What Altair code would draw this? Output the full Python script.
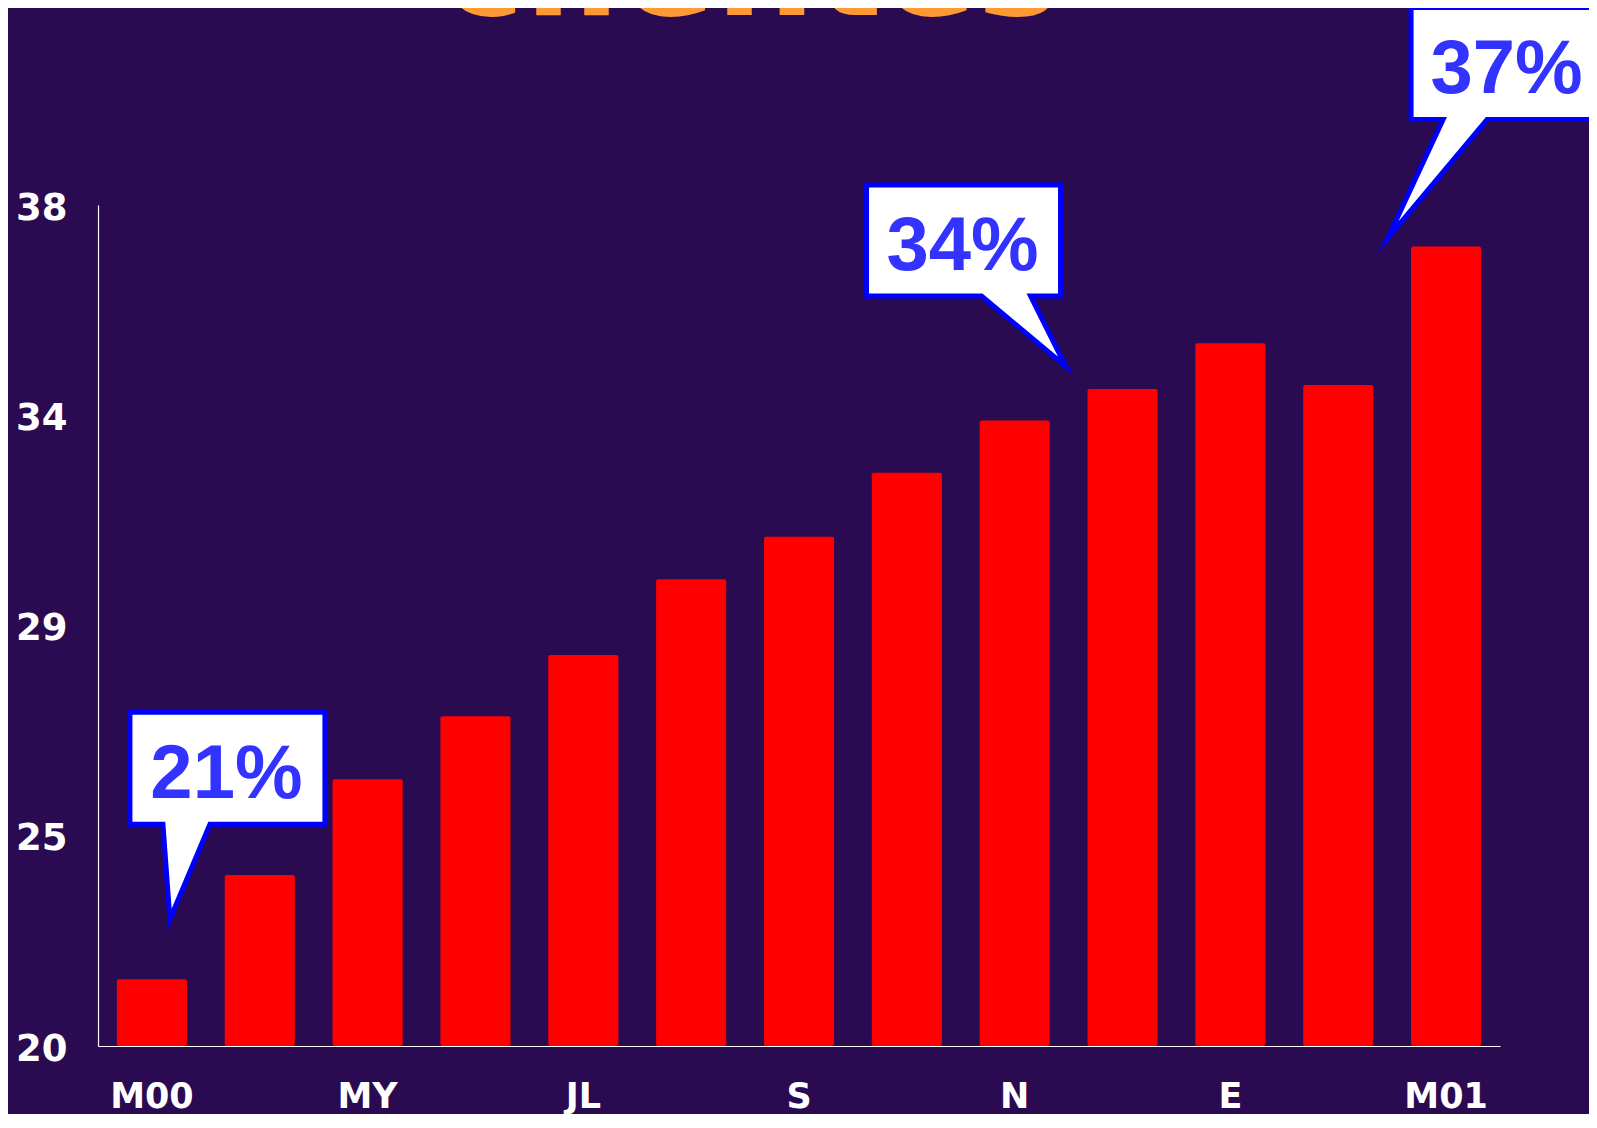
import altair as alt
import pandas as pd

# ---- data ----
months = ["M00", "A", "MY", "JN", "JL", "AG", "S", "O", "N", "D", "E", "F", "M01"]
values = [21.43, 23.66, 25.71, 27.06, 28.37, 29.99, 30.90, 32.27, 33.39, 34.06, 35.04, 34.15, 37.11]
x_tick_labels = ["M00", "MY", "JL", "S", "N", "E", "M01"]
y_ticks = [20, 24.5, 29, 33.5, 38]
y_domain = [20, 38]
callout_labels = ["21%", "34%", "37%"]
callout_months = ["M00", "D", "M01"]
title_text = "clientes"

# ---- styles ----
BG = "#2A0A50"
BAR = "#FF0000"
TITLE_COLOR = "#FF9933"
CALLOUT_TEXT = "#3333FF"
CALLOUT_BORDER = "#0000FF"

# callout outline shapes (box + pointer), relative to the tip of the bar they point at, in px
callout_shapes = [
    "M-22,-267 L173,-267 L173,-155 L58,-155 L18,-60 L11,-155 L-22,-155 Z",
    "M-256,-204 L-62,-204 L-62,-93 L-92,-93 L-57,-23 L-141,-93 L-256,-93 Z",
    "M-35,-239 L159,-239 L159,-127 L41,-127 L-58,-9 L-3,-127 L-35,-127 Z",
]
callout_text_offsets = [(74.5, -181), (-160, -119), (60.5, -154)]

bars_df = pd.DataFrame({"mes": months, "valor": values})

x_scale = alt.Scale(domain=months, paddingInner=0.35, paddingOuter=0.175)
y_scale = alt.Scale(domain=y_domain, nice=False, zero=False)

x_axis = alt.Axis(
    values=x_tick_labels, title=None, labelAngle=0, labelColor="white",
    labelFont="DejaVu Sans", labelFontWeight="bold", labelFontSize=35,
    labelPadding=33, ticks=False, tickSize=0, domainColor="white",
    domainWidth=1.2, grid=False, zindex=1,
)
y_axis = alt.Axis(
    values=y_ticks, title=None, labelExpr="'' + round(datum.value)",
    labelColor="white", labelFont="DejaVu Sans", labelFontWeight="bold",
    labelFontSize=37, labelPadding=31, labelOffset=3, ticks=False, tickSize=0,
    domainColor="white", domainWidth=1.2, grid=False, zindex=1,
)

bars = alt.Chart(bars_df).mark_bar(color=BAR, cornerRadius=2).encode(
    x=alt.X("mes:N", scale=x_scale, axis=x_axis, sort=months),
    y=alt.Y("valor:Q", scale=y_scale, axis=y_axis),
    y2=alt.datum(y_domain[0]),
)

layers = [bars]
for lab, mon, shape, (ddx, ddy) in zip(callout_labels, callout_months, callout_shapes, callout_text_offsets):
    df = pd.DataFrame({"mes": [mon], "valor": [values[months.index(mon)]], "texto": [lab]})
    base = alt.Chart(df).encode(
        x=alt.X("mes:N", scale=x_scale, sort=months),
        y=alt.Y("valor:Q", scale=y_scale),
    )
    box = base.mark_point(
        shape=shape, size=4, filled=True, fill="white", stroke=CALLOUT_BORDER,
        strokeWidth=5, opacity=1, strokeJoin="miter", strokeMiterLimit=30,
    )
    txt = base.mark_text(
        dx=ddx, dy=ddy, align="center", baseline="alphabetic",
        font="Liberation Sans", fontWeight="bold", fontSize=76, color=CALLOUT_TEXT,
    ).encode(text="texto:N")
    layers += [box, txt]

chart = alt.layer(*layers).properties(
    width=1402,
    height=841,
    background=BG,
    padding={"left": 90, "top": 197, "right": 89, "bottom": 68},
    autosize="none",
    title=alt.TitleParams(
        title_text, color=TITLE_COLOR, font="DejaVu Sans", fontWeight="bold",
        fontSize=140, anchor="middle", frame="group", baseline="alphabetic",
        offset=0, dx=-48, dy=222,
    ),
).configure_view(strokeWidth=0)

chart.save("out.html", embed_options={"renderer": "svg", "actions": False})
